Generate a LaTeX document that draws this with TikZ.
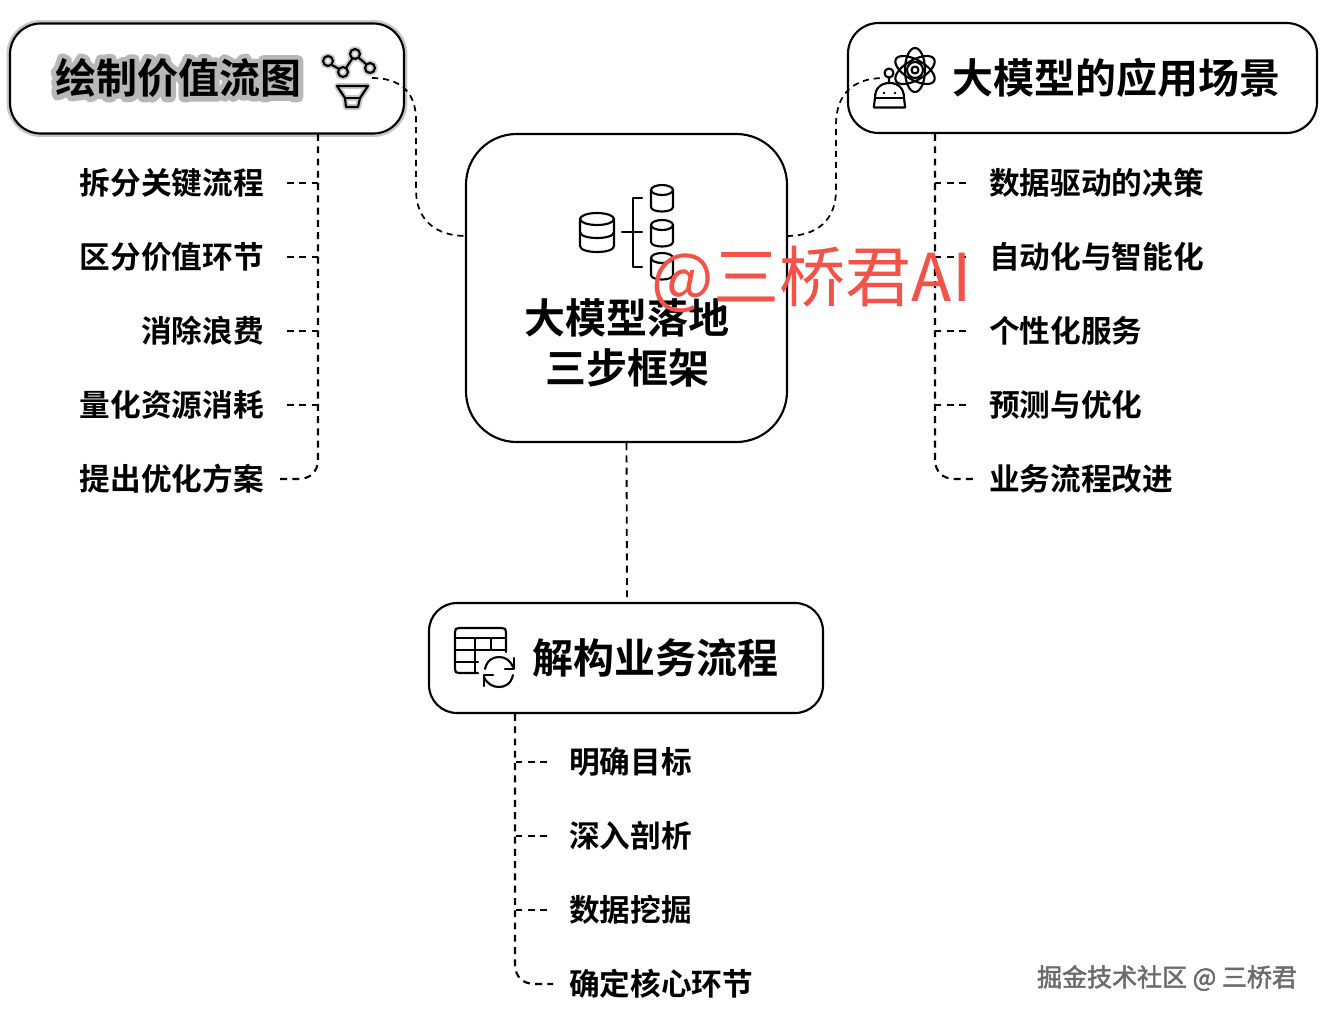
\documentclass[tikz,border=0pt]{standalone}
\usepackage{fontspec}
\usetikzlibrary{arrows.meta}
\newfontfamily\cjkr{Noto Sans CJK SC}
\newfontfamily\cjkb{Noto Sans CJK SC Bold}
\newfontfamily\cjkh[FakeBold=25]{Noto Sans CJK SC Bold}
\newfontfamily\cjkm[FakeBold=2]{Noto Sans CJK SC}
\tikzset{
  x=0.75pt,y=-0.75pt,
  boxshape/.style={draw=black,line width=1.6pt,fill=white,inner sep=0pt,rectangle},
  titletext/.style={font=\cjkb\fontsize{30.75}{36}\selectfont,inner sep=0pt,text=black},
  itemleft/.style={font=\cjkb\fontsize{23}{28}\selectfont,inner ysep=0pt,inner xsep=17.25pt,anchor=east},
  itemright/.style={font=\cjkb\fontsize{23}{28}\selectfont,inner ysep=0pt,inner xsep=17.25pt,anchor=west},
  link/.style={draw=black,line width=1.6pt,dash pattern=on 5.2pt off 4pt},
  linkthin/.style={draw=black,line width=1.3pt,dash pattern=on 4.6pt off 3.6pt},
  icon/.style={draw=black,line width=1.6pt,line cap=round,line join=round},
  halo/.style={draw=black!22,line width=4.4pt,line cap=round,line join=round},
}
\begin{document}
\begin{tikzpicture}
\useasboundingbox (0,0) rectangle (1324,1018);
\fill[white] (0,0) rectangle (1324,1018);

% boxes
\node[boxshape,draw=black!22,line width=5.2pt,rounded corners=23pt,minimum width=295.5pt,minimum height=82.5pt] (vsmhalo) at (207,78.5) {};
\node[boxshape,rounded corners=23pt,minimum width=295.5pt,minimum height=82.5pt] (vsm) at (207,78.5) {};
\node[boxshape,rounded corners=23pt,minimum width=351.75pt,minimum height=82.5pt] (app) at (1082.5,78) {};
\node[boxshape,rounded corners=38pt,minimum width=240.75pt,minimum height=231pt] (core) at (626.5,288) {};
\node[boxshape,rounded corners=21pt,minimum width=295.5pt,minimum height=82.5pt] (deco) at (626,658) {};

% titles
\node[titletext,text=black!28,font=\cjkh\fontsize{30.75}{36}\selectfont] (vsmtexthalo) at (178,78) {\special{pdf:code 1 j 1 J}绘制价值流图};
\node[titletext] (vsmtext) at (178,78) {绘制价值流图};
\node[titletext] (apptext) at (1116,78) {大模型的应用场景};
\node[titletext] (decotext) at (655,658) {解构业务流程};
\node[titletext,align=center,font=\cjkb\fontsize{30.75}{37}\selectfont] (coretext) at (627,343) {大模型落地\\三步框架};

% free ends of connectors
\coordinate (vsmicon) at (372,78);
\coordinate (appicon) at (884,78);
\coordinate (coreL) at (466,236);
\coordinate (coreR) at (787,236);
\coordinate (ltop) at (318,134);
\coordinate (rtop) at (935,134);
\coordinate (btop) at (515,714);

% items
\node[itemleft] (l1) at (287,183) {拆分关键流程};
\node[itemleft] (l2) at (287,257) {区分价值环节};
\node[itemleft] (l3) at (287,331) {消除浪费};
\node[itemleft] (l4) at (287,405) {量化资源消耗};
\node[itemleft,inner xsep=12pt] (l5) at (280,479) {提出优化方案};
\node[itemright] (r1) at (966,183) {数据驱动的决策};
\node[itemright] (r2) at (966,257) {自动化与智能化};
\node[itemright] (r3) at (966,331) {个性化服务};
\node[itemright] (r4) at (966,405) {预测与优化};
\node[itemright,inner xsep=12pt] (r5) at (973,479) {业务流程改进};
\node[itemright,inner xsep=16.5pt] (b1) at (547,762) {明确目标};
\node[itemright,inner xsep=16.5pt] (b2) at (547,836) {深入剖析};
\node[itemright,inner xsep=16.5pt] (b3) at (547,910) {数据挖掘};
\node[itemright,inner xsep=12pt] (b4) at (553,984) {确定核心环节};

% connectors between boxes
\draw[linkthin] (vsmicon) .. controls (400,78) and (416,92) .. (416,120) -- (416,190) .. controls (416,220) and (436,236) .. (coreL);
\draw[linkthin] (coreR) .. controls (817,236) and (836,220) .. (836,190) -- (836,125) .. controls (836,95) and (852,78) .. (appicon);
\draw[link,line width=1.4pt] (core.south) -- (627,597);

% trunks and branches
\draw[link] (ltop) -- (318,459) .. controls (318,472) and (310,479) .. (298,479) -- (l5.east);
\foreach \n in {l1,l2,l3,l4}{\draw[link,line width=1.3pt] (\n.east) -- (\n.east -| ltop);}
\draw[link] (rtop) -- (935,459) .. controls (935,472) and (943,479) .. (955,479) -- (r5.west);
\foreach \n in {r1,r2,r3,r4}{\draw[link,line width=1.3pt] (\n.west) -- (\n.west -| rtop);}
\draw[link] (btop) -- (515,964) .. controls (515,977) and (523,984) .. (535,984) -- (b4.west);
\foreach \n in {b1,b2,b3}{\draw[link,line width=1.3pt] (\n.west) -- (\n.west -| btop);}

% icon: value stream (halo, then line)
\foreach \st in {halo,icon}{
  \draw[\st] (328,61) circle (5) (343,72) circle (5) (355,54) circle (5) (370,68) circle (5);
  \draw[\st] (332,65) -- (339,69) (346,68) -- (352,59) (359,58) -- (366,64);
  \draw[\st] (337,86) -- (368,86) -- (360,98) -- (358,107) -- (346,107) -- (345,98) -- cycle;
  \draw[\st] (345,98) -- (360,98);
}

% icon: atom and robot
\begin{scope}[icon]
  \draw (915,70) circle (3.5) (915,70) circle (8);
  \draw (915,70) ellipse [x radius=10,y radius=22];
  \draw[rotate around={60:(915,70)}] (915,70) ellipse [x radius=10,y radius=22];
  \draw[rotate around={-60:(915,70)}] (915,70) ellipse [x radius=10,y radius=22];
  \draw (889,73) circle (4.5) (889,77.5) -- (889,83);
  \draw (875,98) .. controls (875,88) and (881,83) .. (889.5,83) .. controls (898,83) and (904,88) .. (904,98) -- (905,106) -- (905,107.5) -- (874,107.5) -- (874,106) -- cycle;
  \draw (875,98) -- (904,98);
  \fill (884,93) circle (1.4) (895,93) circle (1.4);
\end{scope}

% icon: databases
\begin{scope}[icon]
  \draw (597,219) ellipse [x radius=17,y radius=6];
  \draw (580,219) -- (580,246) .. controls (580,254) and (614,254) .. (614,246) -- (614,219);
  \draw (580,232) .. controls (580,240) and (614,240) .. (614,232);
  \draw (622,232) -- (642,232) (642,198) -- (633,198) -- (633,267) -- (642,267);
  \foreach \yy in {190,225,258}{
    \draw (662,\yy) ellipse [x radius=11,y radius=5];
    \draw (651,\yy) -- (651,\yy+17) .. controls (651,\yy+23) and (673,\yy+23) .. (673,\yy+17) -- (673,\yy);
  }
\end{scope}

% icon: table with refresh
\begin{scope}[icon]
  \draw (478,673) -- (459,673) .. controls (456,673) and (455,672) .. (455,669) -- (455,632) .. controls (455,629) and (456,628) .. (459,628) -- (502,628) .. controls (505,628) and (506,629) .. (506,632) -- (506,652);
  \draw (455,638) -- (506,638) (455,650) -- (506,650) (455,662) -- (478,662);
  \draw (475,638) -- (475,673) (491,638) -- (491,650);
  \draw (485,669) .. controls (487,660) and (493,657) .. (499,657) .. controls (505,657) and (510,660) .. (513,667);
  \draw (514,658) -- (514,669) -- (505,669);
  \draw (513,675) .. controls (511,684) and (505,687) .. (499,687) .. controls (493,687) and (487,684) .. (484,677);
  \draw (484,686) -- (484,675) -- (493,675);
\end{scope}

% watermarks
\node[font=\cjkr\fontsize{49.5}{58}\selectfont,text={rgb,255:red,242;green,82;blue,72},inner sep=0pt] (mark) at (811.5,279) {@三桥君AI};
\node[font=\cjkm\fontsize{18.75}{22}\selectfont,text=black!58,inner sep=0pt] (mark2) at (1167,978) {掘金技术社区 @ 三桥君};
\end{tikzpicture}
\end{document}
